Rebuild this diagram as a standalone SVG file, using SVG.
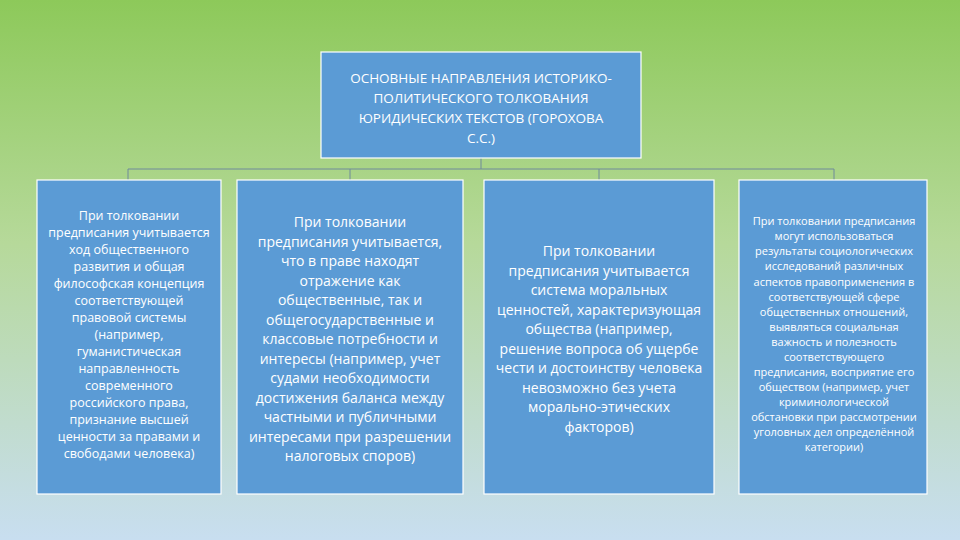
<svg xmlns="http://www.w3.org/2000/svg" width="960" height="540" viewBox="0 0 960 540">
<defs>
<linearGradient id="bg" x1="0" y1="0" x2="0" y2="1">
<stop offset="0" stop-color="#8dc95a"/><stop offset="0.45" stop-color="#b6d99a"/><stop offset="1" stop-color="#c8def0"/>
</linearGradient>
<style>
.box{fill:#5b9bd5;stroke:#ffffff;stroke-width:1.2}
text{font-family:"Open Sans","DejaVu Sans",sans-serif;fill:#ffffff;text-anchor:middle}
.c{stroke:#6e8a9a;stroke-width:1;fill:none}
</style>
</defs>
<rect width="960" height="540" fill="url(#bg)"/>
<g id="connectors">
<path class="c" d="M481 158V169M128 180V169H834V180M350 169V180M599 169V180"/>
</g>
<g id="root">
<rect class="box" x="321" y="52" width="320" height="106"/>
<text font-size="13.5" font-family="Liberation Sans"><tspan x="481" y="83">ОСНОВНЫЕ НАПРАВЛЕНИЯ ИСТОРИКО-</tspan><tspan x="481" y="103">ПОЛИТИЧЕСКОГО ТОЛКОВАНИЯ</tspan><tspan x="481" y="123">ЮРИДИЧЕСКИХ ТЕКСТОВ (ГОРОХОВА</tspan><tspan x="481" y="143">С.С.)</tspan></text>
</g>
<g id="n1">
<rect class="box" x="37" y="180" width="184" height="314"/>
<text font-size="12.5"><tspan x="129" y="220">При толковании</tspan><tspan x="129" y="237">предписания учитывается</tspan><tspan x="129" y="254">ход общественного</tspan><tspan x="129" y="271">развития и общая</tspan><tspan x="129" y="288">философская концепция</tspan><tspan x="129" y="305">соответствующей</tspan><tspan x="129" y="322">правовой системы</tspan><tspan x="129" y="339">(например,</tspan><tspan x="129" y="356">гуманистическая</tspan><tspan x="129" y="373">направленность</tspan><tspan x="129" y="390">современного</tspan><tspan x="129" y="407">российского права,</tspan><tspan x="129" y="424">признание высшей</tspan><tspan x="129" y="441">ценности за правами и</tspan><tspan x="129" y="458">свободами человека)</tspan></text>
</g>
<g id="n2">
<rect class="box" x="237" y="180" width="226" height="314"/>
<text font-size="14"><tspan x="350" y="227">При толковании</tspan><tspan x="350" y="247">предписания учитывается,</tspan><tspan x="350" y="266">что в праве находят</tspan><tspan x="350" y="286">отражение как</tspan><tspan x="350" y="305">общественные, так и</tspan><tspan x="350" y="325">общегосударственные и</tspan><tspan x="350" y="344">классовые потребности и</tspan><tspan x="350" y="364">интересы (например, учет</tspan><tspan x="350" y="383">судами необходимости</tspan><tspan x="350" y="403">достижения баланса между</tspan><tspan x="350" y="422">частными и публичными</tspan><tspan x="350" y="442">интересами при разрешении</tspan><tspan x="350" y="461">налоговых споров)</tspan></text>
</g>
<g id="n3">
<rect class="box" x="484" y="180" width="230" height="314"/>
<text font-size="14"><tspan x="599" y="256">При толковании</tspan><tspan x="599" y="276">предписания учитывается</tspan><tspan x="599" y="295">система моральных</tspan><tspan x="599" y="315">ценностей, характеризующая</tspan><tspan x="599" y="334">общества (например,</tspan><tspan x="599" y="354">решение вопроса об ущербе</tspan><tspan x="599" y="373">чести и достоинству человека</tspan><tspan x="599" y="393">невозможно без учета</tspan><tspan x="599" y="412">морально-этических</tspan><tspan x="599" y="432">факторов)</tspan></text>
</g>
<g id="n4">
<rect class="box" x="739" y="180" width="188" height="314"/>
<text font-size="11"><tspan x="834" y="225">При толковании предписания</tspan><tspan x="834" y="240">могут использоваться</tspan><tspan x="834" y="255">результаты социологических</tspan><tspan x="834" y="270">исследований различных</tspan><tspan x="834" y="286">аспектов правоприменения в</tspan><tspan x="834" y="301">соответствующей сфере</tspan><tspan x="834" y="316">общественных отношений,</tspan><tspan x="834" y="331">выявляться социальная</tspan><tspan x="834" y="346">важность и полезность</tspan><tspan x="834" y="361">соответствующего</tspan><tspan x="834" y="376">предписания, восприятие его</tspan><tspan x="834" y="391">обществом (например, учет</tspan><tspan x="834" y="406">криминологической</tspan><tspan x="834" y="421">обстановки при рассмотрении</tspan><tspan x="834" y="436">уголовных дел определённой</tspan><tspan x="834" y="451">категории)</tspan></text>
</g>
</svg>
